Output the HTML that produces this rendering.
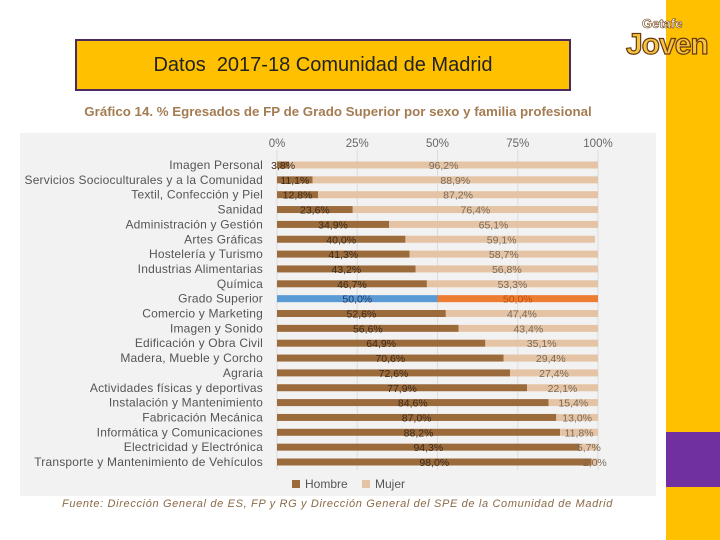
<!DOCTYPE html>
<html><head><meta charset="utf-8"><style>
body{margin:0;width:720px;height:540px;background:#fff;position:relative;overflow:hidden;font-family:"Liberation Sans",sans-serif}
</style></head><body>
<div style="position:absolute;left:666px;top:0;width:54px;height:540px;background:#ffc000"></div>
<div style="position:absolute;left:666px;top:432px;width:54px;height:55px;background:#7030a0"></div>
<div style="position:absolute;left:624px;top:16px;width:86px;height:46px">
<div style="position:absolute;left:18px;top:0;font:bold 13px 'Liberation Sans',sans-serif;color:#fff;-webkit-text-stroke:0.6px #6b3a10">Getafe</div>
<div style="position:absolute;left:2px;top:12px;font:bold 30px 'Liberation Sans',sans-serif;color:#f5c542;-webkit-text-stroke:1.2px #6b3a10;letter-spacing:-1px;line-height:34px">Joven</div>
</div>
<div style="position:absolute;left:75px;top:39px;width:492px;height:48px;background:#ffc000;border:2px solid #4b2a5e;font-size:20px;line-height:48px;text-align:center;color:#222">Datos&nbsp; 2017-18 Comunidad de Madrid</div>
<svg width="720" height="540" style="position:absolute;left:0;top:0">
<text x="338" y="116" text-anchor="middle" font-family="Liberation Sans, sans-serif" font-weight="bold" font-size="13.3" fill="#a47c52">Gráfico 14. % Egresados de FP de Grado Superior por sexo y familia profesional</text>
<rect x="20" y="133" width="636" height="363" fill="#f2f2f2"/>
<g id="g"></g>
<text x="62" y="507" font-family="Liberation Sans, sans-serif" font-style="italic" font-size="11" letter-spacing="0.65" fill="#8a6a48">Fuente: Dirección General de ES, FP y RG y Dirección General del SPE de la Comunidad de Madrid</text>
</svg>
<script>
const categories=["Imagen Personal","Servicios Socioculturales y a la Comunidad","Textil, Confección y Piel","Sanidad","Administración y Gestión","Artes Gráficas","Hostelería y Turismo","Industrias Alimentarias","Química","Grado Superior","Comercio y Marketing","Imagen y Sonido","Edificación y Obra Civil","Madera, Mueble y Corcho","Agraria","Actividades físicas y deportivas","Instalación y Mantenimiento","Fabricación Mecánica","Informática y Comunicaciones","Electricidad y Electrónica","Transporte y Mantenimiento de Vehículos"];
const hombre=[3.8,11.1,12.8,23.6,34.9,40.0,41.3,43.2,46.7,50.0,52.6,56.6,64.9,70.6,72.6,77.9,84.6,87.0,88.2,94.3,98.0];
const mujer=[96.2,88.9,87.2,76.4,65.1,59.1,58.7,56.8,53.3,50.0,47.4,43.4,35.1,29.4,27.4,22.1,15.4,13.0,11.8,5.7,2.0];
const ticks=[0,25,50,75,100];
const NS="http://www.w3.org/2000/svg",g=document.getElementById('g');
const x0=277,x1=598,y0=165,step=14.85;
const X=v=>x0+(x1-x0)*v/100, Y=i=>y0+i*step;
const fmt=v=>v.toFixed(1).replace('.',',')+'%';
function mk(t,a,txt){const e=document.createElementNS(NS,t);for(const k in a)e.setAttribute(k,a[k]);if(txt!=null)e.textContent=txt;g.appendChild(e);return e;}
ticks.forEach(t=>{
const l=mk('line',{x1:X(t),x2:X(t),y1:150,y2:470,stroke:'#dcdcdc'});


const tx=mk('text',{x:X(t),y:147,'text-anchor':'middle','font-family':'Liberation Sans, sans-serif','font-size':'11.5',fill:'#666'},t+'%');


});
categories.forEach((c,i)=>{
const y=Y(i),gs=c==="Grado Superior";
const lb=mk('text',{x:263,y:y+4,'text-anchor':'end','font-family':'Liberation Sans, sans-serif','font-size':'12','letter-spacing':'0.2',fill:'#555'},c);


const b1=mk('rect',{x:X(0),y:y-3.5,width:X(hombre[i])-X(0),height:7,fill:gs?'#5b9bd5':'#9c6b3c'});


const b2=mk('rect',{x:X(hombre[i]),y:y-3.5,width:X(hombre[i]+mujer[i])-X(hombre[i]),height:7,fill:gs?'#ed7d31':'#e4c4a4'});


const t1=mk('text',{x:(X(0)+X(hombre[i]))/2,y:y+4,'text-anchor':'middle','font-family':'Liberation Sans, sans-serif','font-size':'10.5',fill:gs?'#1f3864':'#3a2a1a'},fmt(hombre[i]));


const t2=mk('text',{x:(X(hombre[i])+X(100))/2,y:y+4,'text-anchor':'middle','font-family':'Liberation Sans, sans-serif','font-size':'10.5',fill:gs?'#c05010':'#7a6a5a'},fmt(mujer[i]));


});
[['Hombre','#9c6b3c',292],['Mujer','#e4c4a4',362]].forEach(([n,c,x])=>{
const r=mk('rect',{x:x,y:480,width:8,height:8,fill:c});


const t=mk('text',{x:x+13,y:488,'font-family':'Liberation Sans, sans-serif','font-size':'12',fill:'#555'},n);


});
</script>
</body></html>
